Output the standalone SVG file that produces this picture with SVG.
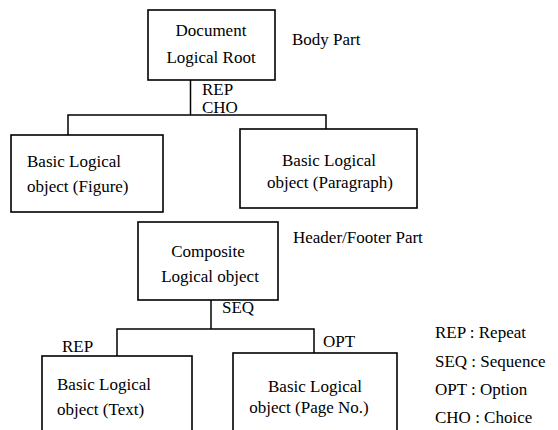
<svg xmlns="http://www.w3.org/2000/svg" width="558" height="430" viewBox="0 0 558 430" font-family="'Liberation Serif', 'DejaVu Serif', serif" font-size="17">
<style>
.box{fill:#fff;stroke:#000;stroke-width:1.6}
.ln{fill:none;stroke:#000;stroke-width:1.5}
.c{text-anchor:middle}
</style>
<rect width="558" height="430" fill="#fff"/>
<g id="connectors">
<polyline class="ln" points="190.5,80 190.5,115"/>
<polyline class="ln" points="68,135 68,115 326,115 326,129"/>
<polyline class="ln" points="211,300 211,329"/>
<polyline class="ln" points="117,356 117,329 314,329 314,353"/>
<text x="202" y="95">REP</text>
<text x="202" y="113">CHO</text>
<text x="222" y="313">SEQ</text>
<text x="62" y="352">REP</text>
<text x="323" y="347">OPT</text>
</g>
<g id="root">
<rect class="box" x="148" y="10" width="127" height="70"/>
<text class="c" x="211" y="36">Document</text>
<text class="c" x="211" y="63">Logical Root</text>
</g>
<g id="figure">
<rect class="box" x="11" y="135" width="152" height="77"/>
<text x="27" y="167">Basic Logical</text>
<text x="27" y="192">object (Figure)</text>
</g>
<g id="paragraph">
<rect class="box" x="240" y="129" width="177" height="79"/>
<text class="c" x="329" y="166">Basic Logical</text>
<text class="c" x="330" y="188">object (Paragraph)</text>
</g>
<g id="composite">
<rect class="box" x="138" y="222" width="140" height="78"/>
<text class="c" x="208" y="257">Composite</text>
<text class="c" x="210" y="282">Logical object</text>
</g>
<g id="text-obj">
<rect class="box" x="42" y="356" width="150" height="80"/>
<text x="57" y="390">Basic Logical</text>
<text x="57" y="415">object (Text)</text>
</g>
<g id="pageno">
<rect class="box" x="233" y="353" width="164" height="83"/>
<text class="c" x="315" y="392">Basic Logical</text>
<text class="c" x="309" y="413">object (Page  No.)</text>
</g>
<g id="labels">
<text x="292" y="45">Body Part</text>
<text x="293" y="243">Header/Footer Part</text>
<text x="435" y="338">REP : Repeat</text>
<text x="435" y="367">SEQ : Sequence</text>
<text x="435" y="395">OPT : Option</text>
<text x="435" y="423">CHO : Choice</text>
</g>
</svg>
